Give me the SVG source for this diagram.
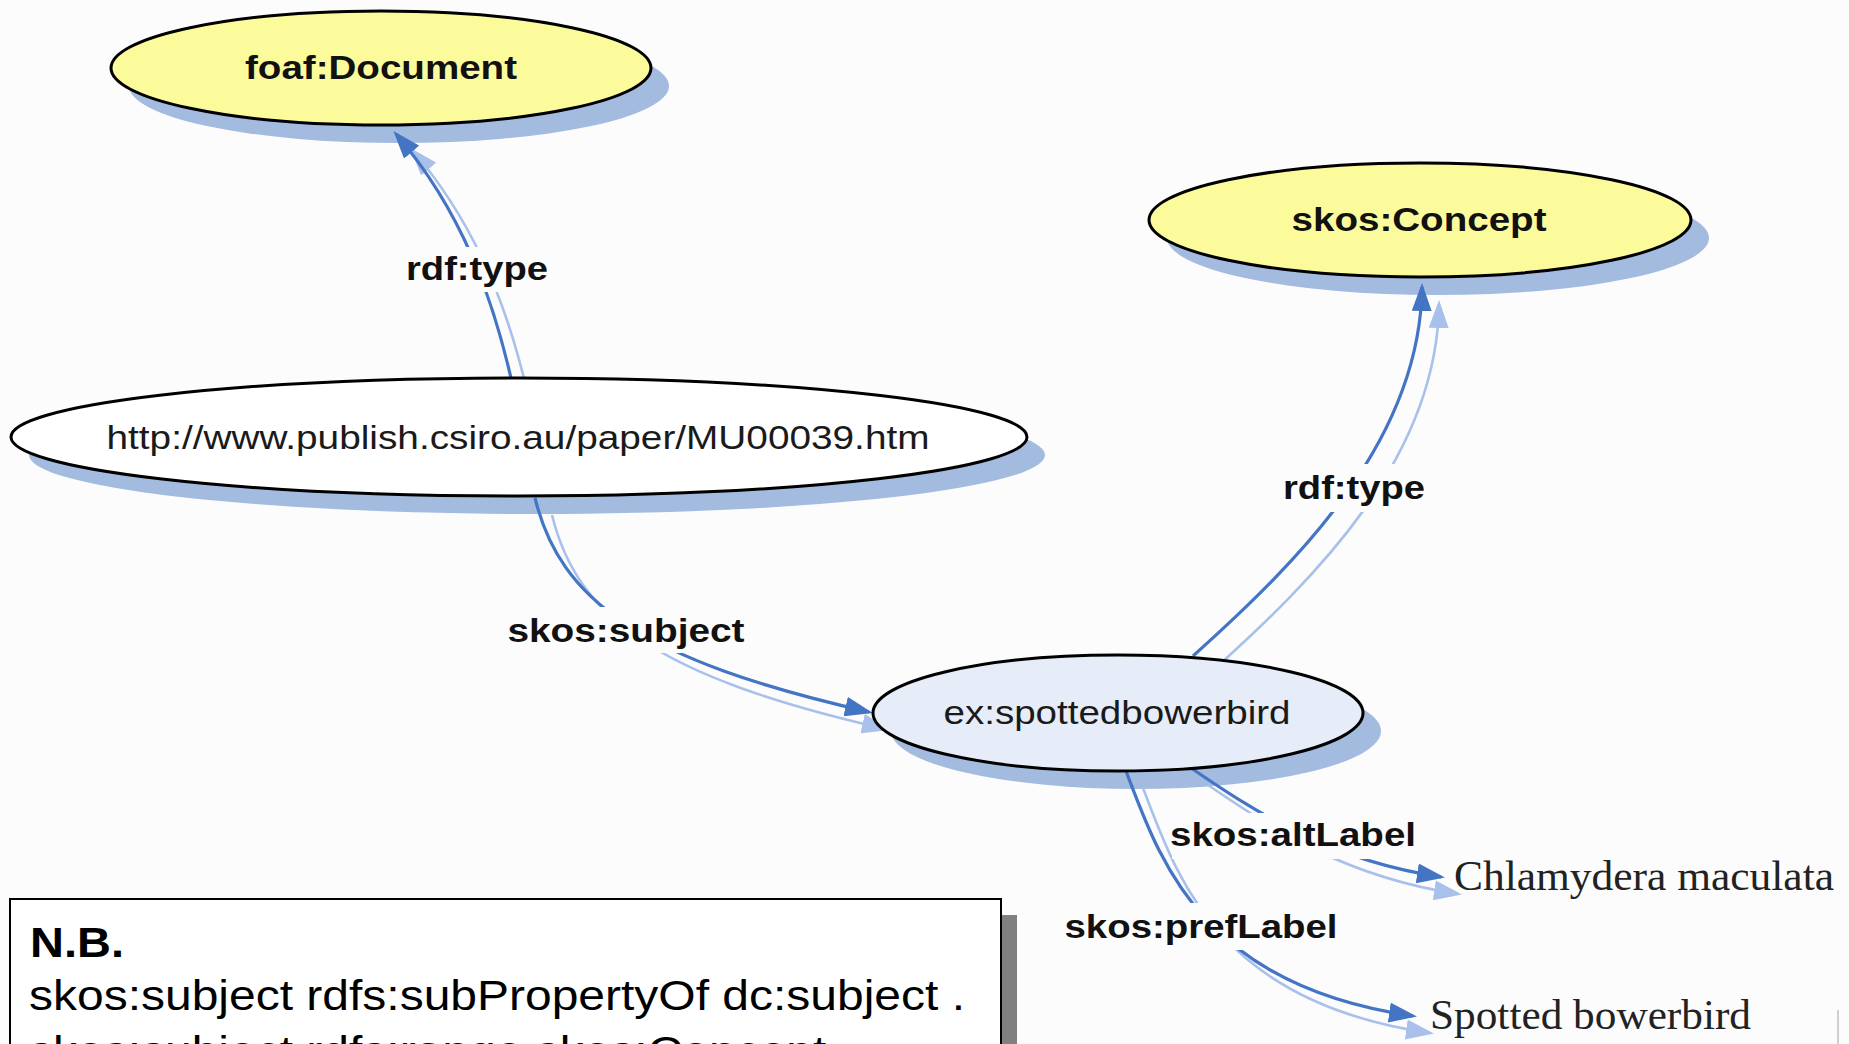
<svg xmlns="http://www.w3.org/2000/svg" width="1849" height="1044" viewBox="0 0 1849 1044">
  <defs>
    <style>
      .bg { fill: #fcfcfc; }
      .nshadow { fill: #a4bbe0; }
      .node { stroke: #000; stroke-width: 3; }
      .yellow { fill: #fbfb9c; }
      .white { fill: #ffffff; }
      .pale { fill: #e6edf8; }
      .edge { fill: none; stroke: #4474c4; stroke-width: 3.2; marker-end: url(#arrowDark); }
      .eshadow { fill: none; stroke: #a9c1ea; stroke-width: 2.6; marker-end: url(#arrowLight); }
      .lblbg { fill: #fcfcfc; }
      .title { font-family: "Liberation Sans", Arial, sans-serif; font-weight: bold; font-size: 34px; fill: #111; text-anchor: middle; }
      .plain { font-family: "Liberation Sans", Arial, sans-serif; font-size: 33px; fill: #1a1a1a; text-anchor: middle; }
      .lbl { font-family: "Liberation Sans", Arial, sans-serif; font-weight: bold; font-size: 34px; fill: #111; text-anchor: middle; }
      .lit { font-family: "Liberation Serif", "Times New Roman", serif; font-size: 43px; fill: #222; }
      .nb { font-family: "Liberation Sans", Arial, sans-serif; font-size: 42px; fill: #000; }
    </style>
    <marker id="arrowDark" markerUnits="userSpaceOnUse" viewBox="0 0 28 20" refX="24" refY="10" markerWidth="28" markerHeight="20" orient="auto">
      <path d="M0,0 L28,10 L0,20 z" fill="#4474c4"/>
    </marker>
    <marker id="arrowLight" markerUnits="userSpaceOnUse" viewBox="0 0 28 20" refX="24" refY="10" markerWidth="28" markerHeight="20" orient="auto">
      <path d="M0,0 L28,10 L0,20 z" fill="#a9c1ea"/>
    </marker>
  </defs>

  <rect class="bg" x="0" y="0" width="1849" height="1044"/>

  <g id="node-shadows">
    <ellipse class="nshadow" cx="399" cy="86" rx="270" ry="57"/>
    <ellipse class="nshadow" cx="1438" cy="238" rx="271" ry="57"/>
    <ellipse class="nshadow" cx="537" cy="455" rx="508" ry="59"/>
    <ellipse class="nshadow" cx="1136" cy="731" rx="245" ry="58"/>
  </g>

  <g id="connectors">
    <g id="connector-shadows" transform="translate(17,17)">
      <path class="eshadow" d="M511,378 C497,318 470,220 396,134"/>
      <path class="eshadow" d="M535,498 C560,600 640,660 869,712"/>
      <path class="eshadow" d="M1193,656 C1300,560 1420,440 1422,287"/>
      <path class="eshadow" d="M1191,768 C1260,815 1330,860 1441,877"/>
      <path class="eshadow" d="M1126,771 C1160,860 1200,985 1413,1016"/>
    </g>
    <path id="e-type-doc" class="edge" d="M511,378 C497,318 470,220 396,134"/>
    <path id="e-subject" class="edge" d="M535,498 C560,600 640,660 869,712"/>
    <path id="e-type-concept" class="edge" d="M1193,656 C1300,560 1420,440 1422,287"/>
    <path id="e-altlabel" class="edge" d="M1191,768 C1260,815 1330,860 1441,877"/>
    <path id="e-preflabel" class="edge" d="M1126,771 C1160,860 1200,985 1413,1016"/>

    <g id="connector-labels">
      <rect class="lblbg" x="400" y="247" width="152" height="45"/>
      <text class="lbl" x="477" y="280" textLength="142" lengthAdjust="spacingAndGlyphs">rdf:type</text>
      <rect class="lblbg" x="500" y="607" width="250" height="46"/>
      <text class="lbl" x="626" y="642" textLength="237" lengthAdjust="spacingAndGlyphs">skos:subject</text>
      <rect class="lblbg" x="1278" y="464" width="152" height="48"/>
      <text class="lbl" x="1354" y="499" textLength="142" lengthAdjust="spacingAndGlyphs">rdf:type</text>
      <rect class="lblbg" x="1172" y="813" width="248" height="46"/>
      <text class="lbl" x="1293" y="846" textLength="246" lengthAdjust="spacingAndGlyphs">skos:altLabel</text>
      <rect class="lblbg" x="1060" y="903" width="282" height="47"/>
      <text class="lbl" x="1201" y="938" textLength="273" lengthAdjust="spacingAndGlyphs">skos:prefLabel</text>
    </g>
  </g>

  <g id="node-foaf-document">
    <ellipse class="node yellow" cx="381" cy="68" rx="270" ry="57"/>
    <text class="title" x="381" y="79" textLength="272" lengthAdjust="spacingAndGlyphs">foaf:Document</text>
  </g>

  <g id="node-skos-concept">
    <ellipse class="node yellow" cx="1420" cy="220" rx="271" ry="57"/>
    <text class="title" x="1419" y="231" textLength="255" lengthAdjust="spacingAndGlyphs">skos:Concept</text>
  </g>

  <g id="node-paper">
    <ellipse class="node white" cx="519" cy="437" rx="508" ry="59"/>
    <text class="plain" x="518" y="449" textLength="823" lengthAdjust="spacingAndGlyphs">http://www.publish.csiro.au/paper/MU00039.htm</text>
  </g>

  <g id="node-spottedbowerbird">
    <ellipse class="node pale" cx="1118" cy="713" rx="245" ry="58"/>
    <text class="plain" x="1117" y="724" textLength="347" lengthAdjust="spacingAndGlyphs">ex:spottedbowerbird</text>
  </g>

  <g id="node-chlamydera">
    <text class="lit" x="1454" y="890" textLength="380" lengthAdjust="spacingAndGlyphs">Chlamydera maculata</text>
  </g>

  <g id="node-spotted-bowerbird-label">
    <text class="lit" x="1430" y="1029" textLength="321" lengthAdjust="spacingAndGlyphs">Spotted bowerbird</text>
  </g>

  <line x1="1838" y1="1010" x2="1838" y2="1044" stroke="#cfcfcf" stroke-width="2"/>

  <g id="note-box">
    <rect x="26" y="915" width="991" height="200" fill="#808080"/>
    <rect x="10" y="899" width="991" height="200" fill="#ffffff" stroke="#000" stroke-width="2"/>
    <text class="nb" x="30" y="957" font-weight="bold" font-size="40" textLength="94" lengthAdjust="spacingAndGlyphs">N.B.</text>
    <text class="nb" x="29" y="1010" textLength="936" lengthAdjust="spacingAndGlyphs">skos:subject rdfs:subPropertyOf dc:subject .</text>
    <text class="nb" x="29" y="1066" textLength="824" lengthAdjust="spacingAndGlyphs">skos:subject rdfs:range skos:Concept .</text>
  </g>
</svg>
